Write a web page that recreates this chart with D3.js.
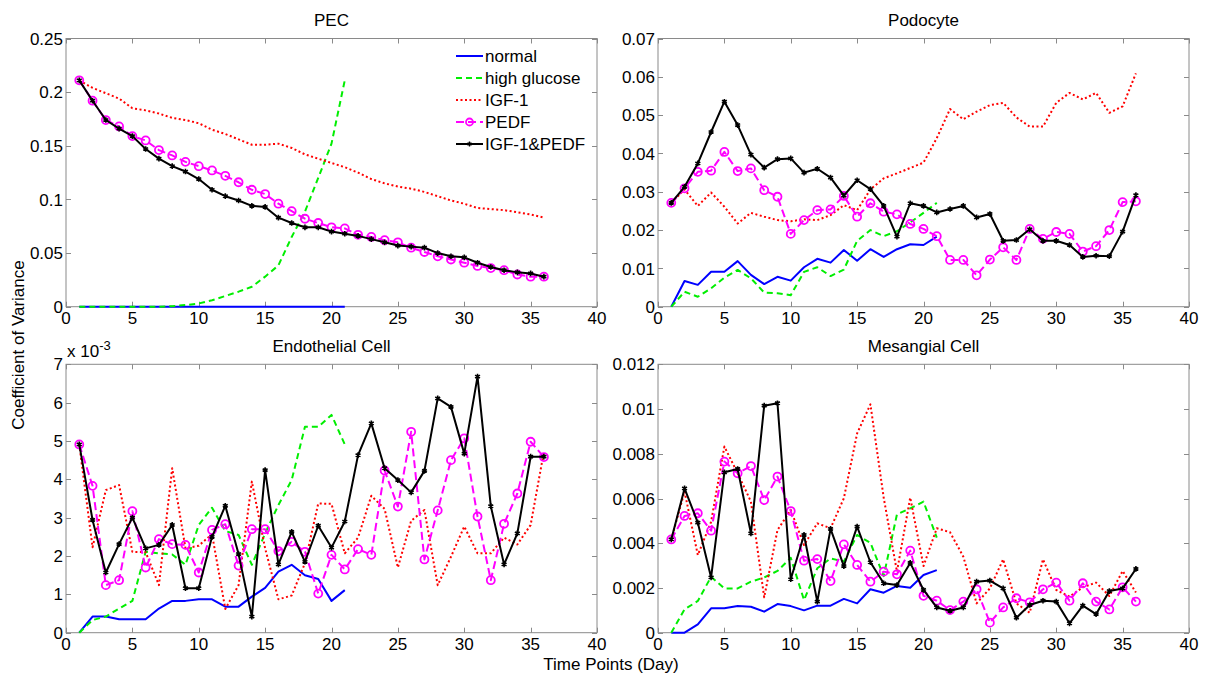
<!DOCTYPE html>
<html>
<head>
<meta charset="utf-8">
<script src="https://cdn.jsdelivr.net/npm/d3@7"></script>
<style>
  html, body { margin: 0; padding: 0; background: #fff; }
  svg { display: block; font-family: "Liberation Sans", Arial, sans-serif; }
</style>
</head>
<body>
<svg id="chart" width="1206" height="680"></svg>
<script>
// Time points (days)
const days36 = [1,2,3,4,5,6,7,8,9,10,11,12,13,14,15,16,17,18,19,20,21,22,23,24,25,26,27,28,29,30,31,32,33,34,35,36];
const days21 = [1,2,3,4,5,6,7,8,9,10,11,12,13,14,15,16,17,18,19,20,21];
const xTicks = [0,5,10,15,20,25,30,35,40];

const seriesNames = ["normal", "high glucose", "IGF-1", "PEDF", "IGF-1&PEDF"];

// PEC
const pecNormal = [0,0,0,0,0,0,0,0,0,0,0,0,0,0,0,0,0,0,0,0,0];
const pecHighGlucose = [0,0,0,0,0,0,0,0.0005,0.0015,0.003,0.006,0.010,0.014,0.0186,0.028,0.0385,0.065,0.0886,0.120,0.152,0.211];
const pecIGF1 = [0.211,0.204,0.199,0.194,0.185,0.183,0.180,0.176,0.174,0.171,0.165,0.161,0.156,0.151,0.151,0.152,0.148,0.142,0.138,0.134,0.130,0.125,0.119,0.115,0.112,0.110,0.107,0.103,0.099,0.096,0.092,0.091,0.090,0.088,0.086,0.083];
const pecPEDF = [0.211,0.192,0.174,0.168,0.159,0.155,0.146,0.141,0.135,0.131,0.127,0.122,0.116,0.109,0.105,0.096,0.089,0.082,0.078,0.074,0.073,0.067,0.065,0.062,0.060,0.055,0.051,0.047,0.044,0.041,0.038,0.036,0.034,0.030,0.028,0.028];
const pecBoth = [0.211,0.192,0.174,0.166,0.159,0.147,0.138,0.131,0.126,0.119,0.109,0.103,0.099,0.094,0.093,0.083,0.078,0.074,0.074,0.070,0.068,0.066,0.063,0.060,0.057,0.056,0.055,0.050,0.047,0.046,0.041,0.037,0.034,0.032,0.031,0.028];
const pecYTicks = [0,0.05,0.1,0.15,0.2,0.25];

// Podocyte
const podNormal = [0,0.0067,0.0057,0.0091,0.0091,0.0119,0.0083,0.0059,0.0078,0.0068,0.0103,0.0125,0.0115,0.0148,0.0120,0.0150,0.0130,0.0150,0.0163,0.0161,0.0183];
const podHighGlucose = [0,0.0039,0.0026,0.0048,0.0076,0.0096,0.0074,0.0037,0.0035,0.0030,0.0091,0.0103,0.0080,0.0097,0.0172,0.0200,0.0184,0.0197,0.0220,0.0245,0.0271];
const podIGF1 = [0.0271,0.0306,0.0263,0.0298,0.0261,0.0217,0.0245,0.0235,0.0226,0.0223,0.0228,0.0226,0.0239,0.0265,0.0252,0.0306,0.0335,0.0348,0.0362,0.0376,0.0440,0.0516,0.0489,0.0509,0.0526,0.0532,0.0494,0.0470,0.0470,0.0532,0.0558,0.0541,0.0558,0.0506,0.0523,0.0609];
const podPEDF = [0.0271,0.0309,0.0352,0.0355,0.0404,0.0354,0.0361,0.0304,0.0287,0.0190,0.0226,0.0252,0.0254,0.0289,0.0235,0.0270,0.0248,0.0241,0.0216,0.0203,0.0184,0.0122,0.0122,0.0082,0.0123,0.0155,0.0122,0.0203,0.0177,0.0195,0.0190,0.0144,0.0158,0.0200,0.0273,0.0275];
const podBoth = [0.0271,0.0313,0.0374,0.0456,0.0535,0.0474,0.0397,0.0363,0.0385,0.0387,0.0350,0.0360,0.0337,0.0290,0.0330,0.0307,0.0263,0.0183,0.0270,0.0263,0.0246,0.0255,0.0263,0.0233,0.0242,0.0172,0.0174,0.0202,0.0172,0.0172,0.0161,0.0130,0.0133,0.0132,0.0196,0.0291];
const podYTicks = [0,0.01,0.02,0.03,0.04,0.05,0.06,0.07];

// Endothelial Cell (values in units of 10^-3)
const endoNormal = [0,0.42,0.42,0.35,0.35,0.35,0.63,0.83,0.83,0.87,0.87,0.68,0.68,0.94,1.17,1.59,1.77,1.50,1.40,0.83,1.11];
const endoHighGlucose = [0,0.33,0.42,0.63,0.83,2.11,2.07,2.04,1.77,2.81,3.26,2.65,2.55,1.77,2.59,3.33,3.98,5.37,5.37,5.68,4.91];
const endoIGF1 = [4.91,2.23,3.72,3.85,2.11,2.10,1.24,4.29,2.20,2.27,2.57,0.62,1.24,3.94,2.20,0.87,0.97,1.81,3.37,3.36,2.07,2.48,3.57,3.23,1.70,2.92,3.20,1.24,1.98,2.77,2.07,2.07,2.48,2.30,2.81,4.72];
const endoPEDF = [4.91,3.83,1.24,1.37,3.17,1.70,2.44,2.31,2.29,1.57,2.68,2.83,1.75,2.70,2.70,2.13,2.37,2.11,1.02,2.03,1.65,2.18,2.03,4.23,3.29,5.24,1.91,3.19,4.50,5.07,3.03,1.37,2.84,3.63,4.98,4.58];
const endoBoth = [4.91,2.94,1.57,2.31,3.00,2.20,2.29,2.81,1.16,1.16,2.50,3.31,2.05,0.42,4.24,1.78,2.63,1.85,2.79,2.22,2.90,4.63,5.46,4.29,3.98,3.66,4.22,6.11,5.89,4.67,6.68,3.30,1.78,2.59,4.59,4.59];
const endoYTicks = [0,1,2,3,4,5,6,7];

// Mesangial Cell
const mesNormal = [0,0,0.00037,0.00109,0.00109,0.00119,0.00116,0.00094,0.00128,0.00119,0.00100,0.00121,0.00121,0.00151,0.00131,0.00194,0.00179,0.00209,0.00201,0.00258,0.00280];
const mesHighGlucose = [0,0.00104,0.00142,0.00250,0.00198,0.00198,0.00228,0.00247,0.00276,0.00335,0.00146,0.00288,0.00332,0.00318,0.00437,0.00402,0.00253,0.00529,0.00556,0.00586,0.00425];
const mesIGF1 = [0.00417,0.00631,0.00347,0.00496,0.00832,0.00713,0.00586,0.00158,0.00459,0.00549,0.00392,0.00489,0.00467,0.00601,0.00891,0.01021,0.00604,0.00273,0.00604,0.00298,0.00467,0.00449,0.00340,0.00131,0.00198,0.00328,0.00131,0.00089,0.00328,0.00191,0.00161,0.00203,0.00224,0.00164,0.00276,0.00180];
const mesPEDF = [0.00417,0.00522,0.00534,0.00456,0.00765,0.00713,0.00745,0.00593,0.00698,0.00544,0.00322,0.00329,0.00231,0.00395,0.00303,0.00228,0.00273,0.00261,0.00367,0.00165,0.00143,0.00101,0.00139,0.00194,0.00045,0.00113,0.00154,0.00136,0.00194,0.00224,0.00143,0.00221,0.00139,0.00104,0.00203,0.00139];
const mesBoth = [0.00417,0.00645,0.00492,0.00247,0.00717,0.00732,0.00444,0.01015,0.01026,0.00239,0.00437,0.00139,0.00464,0.00298,0.00474,0.00315,0.00221,0.00213,0.00312,0.00191,0.00113,0.00098,0.00113,0.00228,0.00233,0.00198,0.00067,0.00124,0.00143,0.00139,0.00042,0.00121,0.00083,0.00186,0.00198,0.00285];
const mesYTicks = [0,0.002,0.004,0.006,0.008,0.01,0.012];

// Line styles per series
const styles = [
  { color: "#0000ff", dash: null, marker: null },
  { color: "#00ee00", dash: "6,4", marker: null },
  { color: "#ff0000", dash: "2,2.5", marker: null },
  { color: "#ff00ff", dash: "8,4", marker: "circle" },
  { color: "#000000", dash: null, marker: "star" }
];

const fmtDec = v => v === 0 ? "0" : String(+v.toFixed(4));

const panels = [
  { title: "PEC", left: 66, right: 597, top: 38.5, bottom: 306.7, ymax: 0.25, yTicks: pecYTicks,
    series: [[days21, pecNormal], [days21, pecHighGlucose], [days36, pecIGF1], [days36, pecPEDF], [days36, pecBoth]], legend: true },
  { title: "Podocyte", left: 658, right: 1189, top: 38.5, bottom: 306.7, ymax: 0.07, yTicks: podYTicks,
    series: [[days21, podNormal], [days21, podHighGlucose], [days36, podIGF1], [days36, podPEDF], [days36, podBoth]] },
  { title: "Endothelial Cell", left: 66, right: 597, top: 364.3, bottom: 632.7, ymax: 7, yTicks: endoYTicks, exponent: true,
    series: [[days21, endoNormal], [days21, endoHighGlucose], [days36, endoIGF1], [days36, endoPEDF], [days36, endoBoth]] },
  { title: "Mesangial Cell", left: 658, right: 1189, top: 364.3, bottom: 632.7, ymax: 0.012, yTicks: mesYTicks,
    series: [[days21, mesNormal], [days21, mesHighGlucose], [days36, mesIGF1], [days36, mesPEDF], [days36, mesBoth]] }
];

const svg = d3.select("#chart");
const axisColor = "#8a8a8a";
const fontSize = 17;
const tickLen = 5;

panels.forEach(p => {
  const x = d3.scaleLinear().domain([0, 40]).range([p.left, p.right]);
  const y = d3.scaleLinear().domain([0, p.ymax]).range([p.bottom, p.top]);
  const g = svg.append("g");

  // frame
  g.append("rect")
    .attr("x", p.left).attr("y", p.top)
    .attr("width", p.right - p.left).attr("height", p.bottom - p.top)
    .attr("fill", "none").attr("stroke", axisColor).attr("stroke-width", 1);

  // ticks pointing inward on all four sides
  const tg = g.append("g").attr("stroke", axisColor).attr("stroke-width", 1);
  xTicks.forEach(t => {
    const xx = Math.round(x(t)) + 0.5;
    tg.append("line").attr("x1", xx).attr("x2", xx).attr("y1", p.bottom).attr("y2", p.bottom - tickLen);
    tg.append("line").attr("x1", xx).attr("x2", xx).attr("y1", p.top).attr("y2", p.top + tickLen);
  });
  p.yTicks.forEach(t => {
    const yy = Math.round(y(t)) + 0.5;
    tg.append("line").attr("x1", p.left).attr("x2", p.left + tickLen).attr("y1", yy).attr("y2", yy);
    tg.append("line").attr("x1", p.right).attr("x2", p.right - tickLen).attr("y1", yy).attr("y2", yy);
  });

  // tick labels
  g.append("g").selectAll("text").data(xTicks).join("text")
    .attr("x", d => x(d)).attr("y", p.bottom + 17.5)
    .attr("text-anchor", "middle").attr("font-size", fontSize).attr("fill", "#000")
    .text(d => d);
  g.append("g").selectAll("text").data(p.yTicks).join("text")
    .attr("x", p.left - 3).attr("y", d => y(d)).attr("dy", "0.36em")
    .attr("text-anchor", "end").attr("font-size", fontSize).attr("fill", "#000")
    .text(d => fmtDec(d));

  if (p.exponent) {
    const ex = g.append("text").attr("x", p.left + 1).attr("y", p.top - 7)
      .attr("font-size", fontSize).attr("fill", "#000");
    ex.append("tspan").text("x 10");
    ex.append("tspan").attr("dy", -7).attr("font-size", 13).text("-3");
  }

  // title
  g.append("text").attr("x", (p.left + p.right) / 2).attr("y", p.top - 12.5)
    .attr("text-anchor", "middle").attr("font-size", fontSize).attr("fill", "#000")
    .text(p.title);

  // series
  p.series.forEach(([xs, ys], i) => {
    const st = styles[i];
    const pts = xs.map((d, k) => [d, ys[k]]);
    const line = d3.line().x(d => x(d[0])).y(d => y(d[1]));
    g.append("path").attr("d", line(pts))
      .attr("fill", "none").attr("stroke", st.color).attr("stroke-width", 2)
      .attr("stroke-linejoin", "round")
      .attr("stroke-dasharray", st.dash);
    if (st.marker === "circle") {
      g.append("g").selectAll("circle").data(pts).join("circle")
        .attr("cx", d => x(d[0])).attr("cy", d => y(d[1])).attr("r", 4)
        .attr("fill", "none").attr("stroke", st.color).attr("stroke-width", 1.8);
    } else if (st.marker === "star") {
      const sym = d3.symbol().type(d3.symbolAsterisk).size(22);
      g.append("g").selectAll("path").data(pts).join("path")
        .attr("transform", d => `translate(${x(d[0])},${y(d[1])})`)
        .attr("d", sym).attr("fill", "none").attr("stroke", st.color).attr("stroke-width", 1.6);
    }
  });

  // legend
  if (p.legend) {
    const lx0 = 456, lx1 = 483, ly = 56, step = 22;
    seriesNames.forEach((name, i) => {
      const st = styles[i];
      const yy = ly + i * step;
      g.append("line").attr("x1", lx0).attr("x2", lx1).attr("y1", yy).attr("y2", yy)
        .attr("stroke", st.color).attr("stroke-width", 2).attr("stroke-dasharray", st.dash);
      if (st.marker === "circle") {
        g.append("circle").attr("cx", (lx0 + lx1) / 2).attr("cy", yy).attr("r", 3.5)
          .attr("fill", "none").attr("stroke", st.color).attr("stroke-width", 1.8);
      } else if (st.marker === "star") {
        g.append("path").attr("transform", `translate(${(lx0 + lx1) / 2},${yy})`)
          .attr("d", d3.symbol().type(d3.symbolAsterisk).size(16)())
          .attr("fill", "none").attr("stroke", st.color).attr("stroke-width", 1.4);
      }
      g.append("text").attr("x", lx1 + 2).attr("y", yy).attr("dy", "0.36em")
        .attr("font-size", fontSize).attr("fill", "#000").text(name);
    });
  }
});

// shared axis labels
svg.append("text").attr("x", 611).attr("y", 670)
  .attr("text-anchor", "middle").attr("font-size", fontSize).attr("fill", "#000")
  .text("Time Points (Day)");
svg.append("text").attr("transform", "translate(24,345) rotate(-90)")
  .attr("text-anchor", "middle").attr("font-size", fontSize).attr("fill", "#000")
  .text("Coefficient of Variance");
</script>
</body>
</html>
